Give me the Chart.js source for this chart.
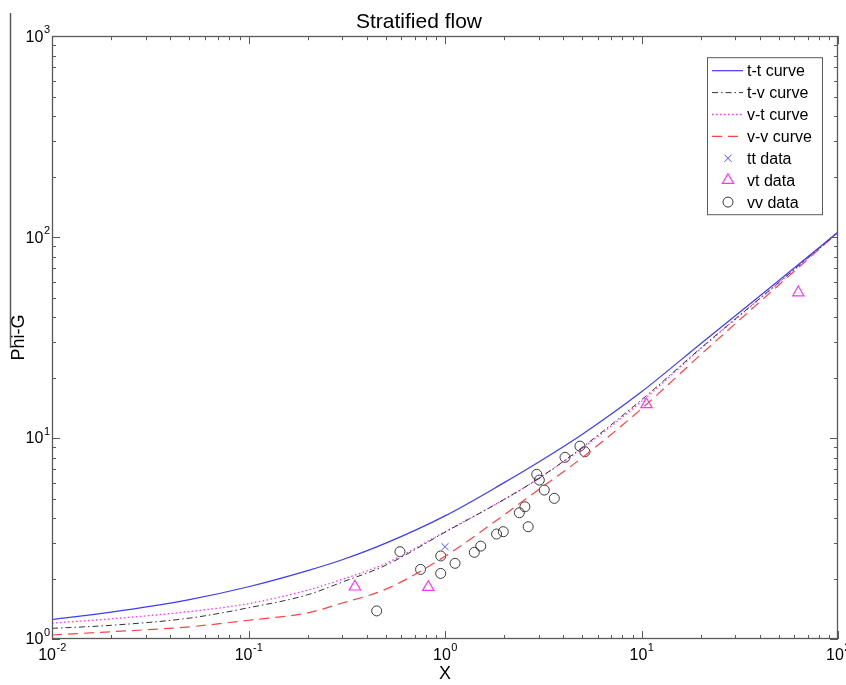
<!DOCTYPE html>
<html>
<head>
<meta charset="utf-8">
<script src="https://cdn.jsdelivr.net/npm/chart.js@4"></script>
<style>
  body { margin: 0; background: #fff; }
  #wrap { width: 846px; height: 685px; position: relative; }
</style>
</head>
<body>
<div id="wrap"><canvas id="phiChart"></canvas></div>
<script>
// curves at X = 0.01 ... 100
const curveX  = [0.01, 0.02, 0.05, 0.1, 0.2, 0.3, 0.5, 1, 2, 3, 5, 10, 20, 50, 100];
const ttCurve = [1.25, 1.36, 1.57, 1.82, 2.19, 2.48, 3.0, 4.1, 6.0, 7.6, 10.45, 17.0, 29.5, 60.8, 106];
const tvCurve = [1.13, 1.17, 1.27, 1.43, 1.66, 1.92, 2.33, 3.4, 4.95, 6.3, 9.0, 15.5, 28.0, 59.5, 105.5];
const vtCurve = [1.2, 1.26, 1.37, 1.5, 1.75, 1.98, 2.38, 3.42, 4.95, 6.3, 8.9, 15.2, 27.8, 59.3, 105.5];
const vvCurve = [1.047, 1.087, 1.15, 1.24, 1.35, 1.51, 1.77, 2.58, 4.15, 5.55, 8.0, 14.0, 26.0, 57.8, 105.5];

// measured points
const ttDataX = [1.0];
const ttDataY = [2.88];
const vtDataX = [0.348, 0.822, 10.6, 62.8];
const vtDataY = [1.82, 1.81, 14.7, 53.0];
const vvDataX = [0.449, 0.59, 0.751, 0.951, 0.951, 1.125, 1.41, 1.52, 1.83, 1.98,
                 2.39, 2.55, 2.65, 2.93, 3.02, 3.2, 3.6, 4.08, 4.86, 5.15];
const vvDataY = [1.38, 2.72, 2.22, 2.59, 2.12, 2.38, 2.70, 2.90, 3.33, 3.42,
                 4.25, 4.55, 3.62, 6.6, 6.18, 5.51, 5.01, 8.02, 9.12, 8.55];

// decade ticks and their exponent labels
const xDecades = [0.01, 0.1, 1, 10, 100];
const xExpLabels = ["-2", "-1", "0", "1", "2"];
const yDecades = [1, 10, 100, 1000];
const yExpLabels = ["0", "1", "2", "3"];

const FONT = "Arial, 'Liberation Sans', sans-serif";
const AXIS_COLOR = "#5a5a5a";

function pts(xs, ys) {
    return xs.map((x, i) => ({ x: x, y: ys[i] }));
}

function markerPath(ctx, style, x, y, r) {
    ctx.beginPath();
    if (style === "circle") {
        ctx.arc(x, y, r, 0, Math.PI * 2);
    } else if (style === "triangle") {
        ctx.moveTo(x, y - r);
        ctx.lineTo(x + r * 0.866, y + r / 2);
        ctx.lineTo(x - r * 0.866, y + r / 2);
        ctx.closePath();
    } else if (style === "crossRot") {
        const d = r * 0.707;
        ctx.moveTo(x - d, y - d); ctx.lineTo(x + d, y + d);
        ctx.moveTo(x + d, y - d); ctx.lineTo(x - d, y + d);
    }
    ctx.stroke();
}

// MATLAB-like box, inward ticks, decade labels and a boxed legend
const matlabAxes = {
    id: "matlabAxes",
    afterDatasetsDraw(chart) {
        const { ctx, chartArea: a, scales } = chart;
        const xs = scales.x, ys = scales.y;
        ctx.save();
        ctx.strokeStyle = AXIS_COLOR;
        ctx.lineWidth = 1;

        const xTicks = [], yTicks = [];
        xDecades.forEach((d, i) => {
            xTicks.push({ v: d, major: true });
            if (i < xDecades.length - 1) for (let m = 2; m <= 9; m++) xTicks.push({ v: d * m, major: false });
        });
        yDecades.forEach((d, i) => {
            yTicks.push({ v: d, major: true });
            if (i < yDecades.length - 1) for (let m = 2; m <= 9; m++) yTicks.push({ v: d * m, major: false });
        });

        ctx.beginPath();
        xTicks.forEach(t => {
            const px = Math.round(xs.getPixelForValue(t.v)) + 0.5;
            const len = t.major ? 8 : 4;
            ctx.moveTo(px, a.bottom); ctx.lineTo(px, a.bottom - len);
            ctx.moveTo(px, a.top); ctx.lineTo(px, a.top + len);
        });
        yTicks.forEach(t => {
            const py = Math.round(ys.getPixelForValue(t.v)) + 0.5;
            const len = t.major ? 8 : 4;
            ctx.moveTo(a.left, py); ctx.lineTo(a.left + len, py);
            ctx.moveTo(a.right, py); ctx.lineTo(a.right - len, py);
        });
        ctx.stroke();

        ctx.lineWidth = 1.3;
        ctx.strokeRect(Math.round(a.left) + 0.5, Math.round(a.top) + 0.5,
                       Math.round(a.width) - 1, Math.round(a.height) - 1);

        // legend
        const lx = a.right - 131, ly = a.top + 21, lw = 115, lh = 157;
        ctx.fillStyle = "#fff";
        ctx.fillRect(lx, ly, lw, lh);
        ctx.lineWidth = 1;
        ctx.strokeStyle = AXIS_COLOR;
        ctx.strokeRect(lx + 0.5, ly + 0.5, lw, lh);
        ctx.font = "16px " + FONT;
        ctx.textBaseline = "middle";
        ctx.textAlign = "left";
        chart.data.datasets.forEach((ds, i) => {
            const ry = ly + 13.5 + i * 21.9;
            ctx.strokeStyle = ds.borderColor;
            ctx.lineWidth = ds.borderWidth || 1;
            if (ds.showLine) {
                ctx.setLineDash(ds.borderDash || []);
                ctx.beginPath();
                ctx.moveTo(lx + 5, ry); ctx.lineTo(lx + 36, ry);
                ctx.stroke();
                ctx.setLineDash([]);
            } else {
                markerPath(ctx, ds.pointStyle, lx + 21, ry, ds.pointRadius);
            }
            ctx.fillStyle = "#000";
            ctx.fillText(ds.label, lx + 40, ry + 1);
        });
        ctx.restore();
    },
    afterDraw(chart) {
        const { ctx, chartArea: a, scales } = chart;
        ctx.save();
        ctx.fillStyle = "#000";
        ctx.textBaseline = "middle";
        // x labels: 10 with raised exponent, centred on the tick
        xDecades.forEach((d, i) => {
            const px = scales.x.getPixelForValue(d);
            ctx.font = "16px " + FONT;
            const wb = ctx.measureText("10").width;
            ctx.font = "11px " + FONT;
            const we = ctx.measureText(xExpLabels[i]).width;
            const x0 = px - (wb + we) / 2;
            ctx.textAlign = "left";
            ctx.font = "16px " + FONT;
            ctx.fillText("10", x0, a.bottom + 17);
            ctx.font = "11px " + FONT;
            ctx.fillText(xExpLabels[i], x0 + wb + 0.5, a.bottom + 9);
        });
        // y labels, right aligned against the axis
        yDecades.forEach((d, i) => {
            const py = scales.y.getPixelForValue(d);
            ctx.font = "11px " + FONT;
            const we = ctx.measureText(yExpLabels[i]).width;
            ctx.textAlign = "right";
            ctx.fillText(yExpLabels[i], a.left - 2, py - 6);
            ctx.font = "16px " + FONT;
            ctx.fillText("10", a.left - 2.5 - we, py + 1);
        });
        // stray line left of the y label, as in the original figure
        ctx.strokeStyle = AXIS_COLOR;
        ctx.lineWidth = 1.5;
        ctx.beginPath();
        ctx.moveTo(10.5, 13);
        ctx.lineTo(10.5, 348);
        ctx.stroke();
        ctx.restore();
    }
};

const ctx = document.getElementById("phiChart").getContext("2d");
new Chart(ctx, {
    type: "scatter",
    data: {
        datasets: [
            {
                label: "t-t curve",
                data: pts(curveX, ttCurve),
                showLine: true, pointRadius: 0,
                borderColor: "#3c3cff", borderWidth: 1.2,
                cubicInterpolationMode: "monotone"
            },
            {
                label: "t-v curve",
                data: pts(curveX, tvCurve),
                showLine: true, pointRadius: 0,
                borderColor: "#333333", borderWidth: 1, borderDash: [6, 3, 1.5, 3],
                cubicInterpolationMode: "monotone"
            },
            {
                label: "v-t curve",
                data: pts(curveX, vtCurve),
                showLine: true, pointRadius: 0,
                borderColor: "#ff33ff", borderWidth: 1.3, borderDash: [1.5, 2.5],
                cubicInterpolationMode: "monotone"
            },
            {
                label: "v-v curve",
                data: pts(curveX, vvCurve),
                showLine: true, pointRadius: 0,
                borderColor: "#ff4444", borderWidth: 1.2, borderDash: [10, 6],
                cubicInterpolationMode: "monotone"
            },
            {
                label: "tt data",
                data: pts(ttDataX, ttDataY),
                pointStyle: "crossRot", pointRadius: 5,
                borderColor: "#5050ff", borderWidth: 1,
                backgroundColor: "rgba(0,0,0,0)"
            },
            {
                label: "vt data",
                data: pts(vtDataX, vtDataY),
                pointStyle: "triangle", pointRadius: 6.5,
                borderColor: "#ff33ff", borderWidth: 1.2,
                backgroundColor: "rgba(0,0,0,0)"
            },
            {
                label: "vv data",
                data: pts(vvDataX, vvDataY),
                pointStyle: "circle", pointRadius: 5,
                borderColor: "#3a3a3a", borderWidth: 1,
                backgroundColor: "rgba(0,0,0,0)"
            }
        ]
    },
    options: {
        responsive: true,
        maintainAspectRatio: false,
        animation: false,
        layout: { padding: { left: 0, right: 8, top: 0, bottom: 0 } },
        plugins: {
            legend: { display: false },
            tooltip: { enabled: false },
            title: {
                display: true,
                text: "Stratified flow",
                color: "#000",
                font: { family: FONT, size: 21, weight: "normal" },
                padding: { top: 10, bottom: 1 }
            }
        },
        scales: {
            x: {
                type: "logarithmic",
                min: 0.01, max: 100,
                grid: { display: false },
                border: { display: false },
                ticks: { display: false },
                title: {
                    display: true, text: "X", color: "#000",
                    font: { family: FONT, size: 18 },
                    padding: { top: 0, bottom: 0 }
                },
                afterFit(scale) { scale.height = 46; }
            },
            y: {
                type: "logarithmic",
                min: 1, max: 1000,
                grid: { display: false },
                border: { display: false },
                ticks: { display: false },
                title: {
                    display: true, text: "Phi-G", color: "#000",
                    font: { family: FONT, size: 18 },
                    padding: { top: 8, bottom: 0 }
                },
                afterFit(scale) { scale.width = 52; }
            }
        }
    },
    plugins: [matlabAxes]
});
</script>
</body>
</html>
